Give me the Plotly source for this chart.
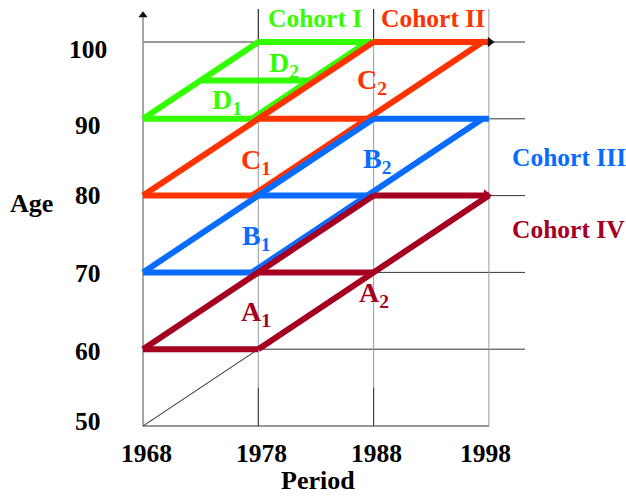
import plotly.graph_objects as go

# ---------------- data ----------------
period_ticks = [1968, 1978, 1988, 1998]
age_ticks = [50, 60, 70, 80, 90, 100]
cohort_names = ["Cohort I", "Cohort II", "Cohort III", "Cohort IV"]
cohort_age_1968 = [90, 80, 70, 60]          # age of each cohort's youngest edge in 1968
cohort_colors = ["#33FF00", "#FF3300", "#0A6CFF", "#A50021"]
cohort_I_split_age = 95                     # D1 / D2 divider
max_age = 100
segment_labels = {                           # label: (period, age) centre
    "D<sub>2</sub>": (1980.2, 97.1, 0),
    "D<sub>1</sub>": (1975.3, 92.2, 0),
    "C<sub>2</sub>": (1987.9, 94.8, 1),
    "C<sub>1</sub>": (1977.8, 84.5, 1),
    "B<sub>2</sub>": (1988.3, 84.6, 2),
    "B<sub>1</sub>": (1977.8, 74.6, 2),
    "A<sub>2</sub>": (1988.0, 67.1, 3),
    "A<sub>1</sub>": (1977.8, 64.6, 3),
}
cohort_label_pos = [(1982.9, 103.1), (1993.15, 103.1), (2004.95, 84.96), (2004.9, 75.65)]

# label nudges in pixels (layout only)
period_label_xshift = [3, 3, 3, -3]
age_label_yshift = [5, -2, -1.5, 0, -7, -7]

FONT = "Liberation Serif, Times New Roman, serif"
X0, X1 = 1955.597, 2009.89
Y0, Y1 = 40.755, 105.47
GRID_END = 2001.13
TOP = 104.3
SHIFT = -0.55   # small offset so coincident diagonals sit side by side

fig = go.Figure()

def seg(xs, ys, color, width, dash=None):
    fig.add_trace(go.Scatter(x=xs, y=ys, mode="lines", hoverinfo="skip",
                             line=dict(color=color, width=width, dash=dash),
                             showlegend=False))

# grid: horizontal lines
for a in age_ticks[1:]:
    seg([period_ticks[0], GRID_END], [a, a], "#333333", 1)
# vertical lines
for p in period_ticks[1:]:
    seg([p, p], [age_ticks[0], TOP], "#9a9a9a", 1)
for p in period_ticks[1:3]:
    seg([p, p], [max_age, TOP], "#222222", 1)
    seg([p, p], [age_ticks[0], age_ticks[0] + 5], "#333333", 1)
# bottom axis
seg([period_ticks[0], period_ticks[-1]], [age_ticks[0], age_ticks[0]], "#333333", 1.2)
# y axis
seg([period_ticks[0], period_ticks[0]], [age_ticks[0], 103.6], "#8a8a8a", 1.5)
# thin diagonal
seg([period_ticks[0], period_ticks[1]], [age_ticks[0], age_ticks[1]], "#222222", 1)

# cohort parallelograms
for i, (a0, col) in enumerate(zip(cohort_age_1968, cohort_colors)):
    xs, ys = [], []
    end_left = min(a0 + 20, max_age)
    xs += [period_ticks[0], period_ticks[0] + (end_left - a0), None]
    ys += [a0, end_left, None]
    for k in range(3):
        a = a0 + 10 * k
        if a <= max_age:
            xs += [period_ticks[k], period_ticks[k + 1], None]
            ys += [a, a, None]
    end_right = min(a0 + 20, max_age)
    sh = SHIFT if i < 3 else 0
    xs += [period_ticks[1] + sh, period_ticks[1] + (end_right - a0) + sh, None]
    ys += [a0, end_right, None]
    if i == 0:
        xs += [period_ticks[0] + (cohort_I_split_age - a0),
               period_ticks[1] + (cohort_I_split_age - a0) + SHIFT, None]
        ys += [cohort_I_split_age, cohort_I_split_age, None]
    fig.add_trace(go.Scatter(x=xs, y=ys, mode="lines", hoverinfo="skip",
                             line=dict(color=col, width=6), showlegend=False))

# arrowheads
fig.add_trace(go.Scatter(x=[period_ticks[0]], y=[103.5], mode="markers", showlegend=False,
                         marker=dict(symbol="triangle-up", size=8, color="#111111"), hoverinfo="skip"))
fig.add_trace(go.Scatter(x=[period_ticks[-1] + 0.1], y=[max_age], mode="markers", showlegend=False,
                         marker=dict(symbol="triangle-right", size=9, color="#111111"), hoverinfo="skip"))
fig.add_trace(go.Scatter(x=[period_ticks[-1] - 0.2], y=[cohort_age_1968[3] + 20], mode="markers", showlegend=False,
                         marker=dict(symbol="triangle-right", size=11, color=cohort_colors[3]), hoverinfo="skip"))

ann = []
def txt(x, y, t, size, color="#000000", xshift=0, yshift=0, yanchor="middle"):
    ann.append(dict(x=x, y=y, xref="x", yref="y", text="<b>" + t + "</b>", showarrow=False,
                    xanchor="center", yanchor=yanchor, xshift=xshift, yshift=yshift,
                    font=dict(family=FONT, size=size, color=color)))

for p, xs_ in zip(period_ticks, period_label_xshift):
    txt(p, 46.4, str(p), 25.5, xshift=xs_)
for a, ys_ in zip(age_ticks, age_label_yshift):
    txt(1963.27, a, str(a), 25.5, yshift=ys_)
txt(1983.22, Y0, "Period", 26, yanchor="bottom")
txt(1958.29, 79.0, "Age", 26)
for name, (x, y), col in zip(cohort_names, cohort_label_pos, cohort_colors):
    txt(x, y, name, 25.5, col)
for t, (x, y, ci) in segment_labels.items():
    txt(x, y, t, 28, cohort_colors[ci])

fig.update_layout(
    width=626, height=497, margin=dict(l=0, r=0, t=0, b=0, pad=0),
    paper_bgcolor="white", plot_bgcolor="white",
    xaxis=dict(range=[X0, X1], visible=False, fixedrange=True),
    yaxis=dict(range=[Y0, Y1], visible=False, fixedrange=True),
    annotations=ann,
)
fig.write_html("out.html", config={"displayModeBar": False},
               post_script="document.body.style.margin='0px';document.body.style.overflow='hidden';")
